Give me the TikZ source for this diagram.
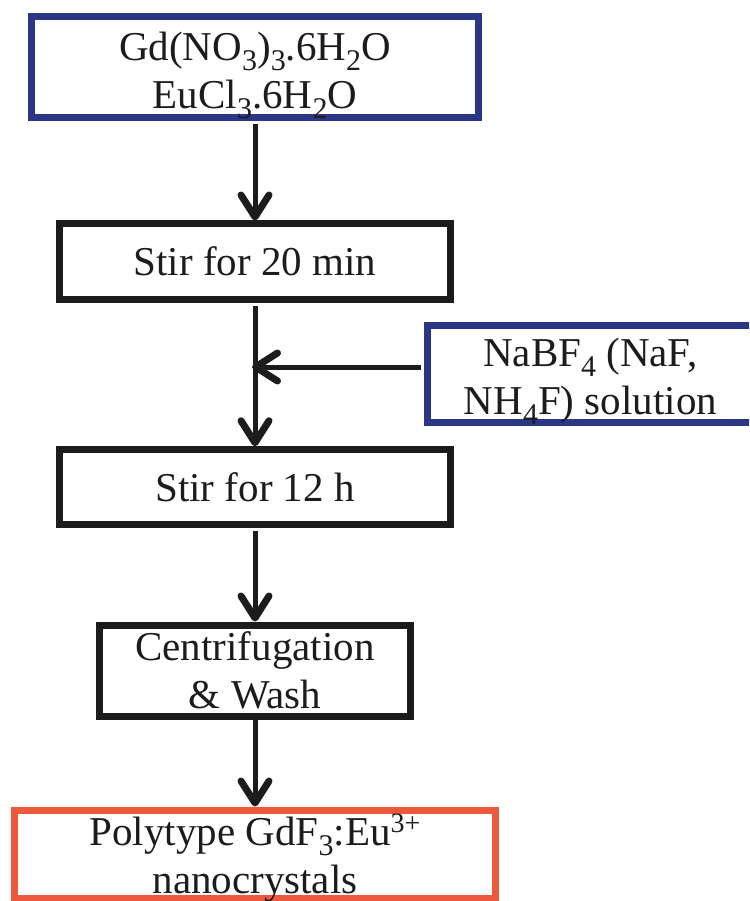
\documentclass[tikz,border=0pt]{standalone}
\usepackage{fontspec}
\setmainfont{Liberation Serif}
\usetikzlibrary{arrows.meta}
\definecolor{navy}{RGB}{44,54,134}
\definecolor{redor}{RGB}{238,88,60}
\definecolor{ink}{RGB}{28,28,28}
\newcommand\subx[1]{\raisebox{-0.25em}{\fontsize{30}{30}\selectfont #1}}
\newcommand\supx[1]{\raisebox{0.3em}{\fontsize{28}{28}\selectfont #1}}
\begin{document}
\begin{tikzpicture}[x=1pt,y=-1pt,
  box/.style={draw=ink, line width=7pt, rectangle, inner sep=0pt, align=center,
              font=\fontsize{41}{48}\selectfont, text=ink},
  bluebox/.style={box, draw=navy},
  redbox/.style={box, draw=redor},
  txt/.style={inner sep=0pt, align=center, font=\fontsize{41}{48}\selectfont, text=ink},
  arr/.style={draw=ink, line width=5pt, shorten <=3pt,
              -{Straight Barb[length=22pt,width=28pt,line width=7pt,round]}}]
\fill[white] (0,0) rectangle (749,901);
\clip (0,0) rectangle (749,901);
\node[bluebox, minimum width=447pt, minimum height=101pt] (src) at (255,67.5) {};
\node[txt] (srcT) at ([yshift=-8pt]src.center)
  {Gd(NO\subx{3})\subx{3}.6H\subx{2}O\\EuCl\subx{3}.6H\subx{2}O};
\node[box, minimum width=391.5pt, minimum height=75pt] (s20) at (255,261.5)
  {Stir for 20 min};
\node[bluebox, minimum width=326pt, minimum height=97.5pt] (na) at (590.5,374) {};
\node[txt] (naT) at ([yshift=-7pt]na.center)
  {NaBF\subx{4} (NaF,\\NH\subx{4}F) solution};
\node[box, minimum width=391.5pt, minimum height=74.5pt] (s12) at (255,487)
  {Stir for 12 h};
\node[box, minimum width=311.5pt, minimum height=91pt] (cen) at (255,670.5)
  {Centrifugation\\\& Wash};
\node[redbox, minimum width=481pt, minimum height=88pt] (fin) at (255,854) {};
\node[txt] (finT) at ([yshift=-4pt]fin.center)
  {Polytype GdF\subx{3}:Eu\supx{3+}\\nanocrystals};
\coordinate (j) at (252,367);
\draw[arr] (src) -- (s20);
\draw[arr] (s20) -- (s12);
\draw[arr] (j -| na.west) -- (j);
\draw[arr] (s12) -- (cen);
\draw[arr, shorten <=0pt] (cen) -- (fin);
\end{tikzpicture}
\end{document}
